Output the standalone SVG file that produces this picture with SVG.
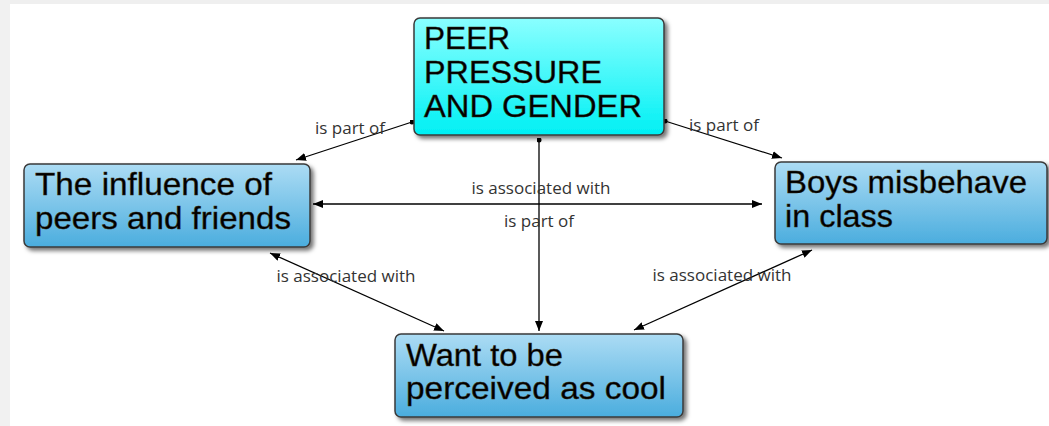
<svg xmlns="http://www.w3.org/2000/svg" width="1049" height="426" viewBox="0 0 1049 426">
<style>
.box{stroke:#3a3a3a;stroke-width:1.5;filter:url(#sh)}
.blue{fill:url(#gb)}
.cyan{fill:url(#gc)}
.nt{font-family:"Liberation Sans",Arial,sans-serif;font-size:32px;fill:#000;stroke:#3a2a10;stroke-width:0.4}
.lbl{font-family:"Open Sans","Noto Sans",sans-serif;font-size:17px;fill:#333;text-anchor:middle}
.con{stroke:#000;stroke-width:1.3;fill:none}
</style>
<defs>
<linearGradient id="gb" x1="0" y1="0" x2="0" y2="1">
<stop offset="0" stop-color="#acdcf4"/>
<stop offset="1" stop-color="#4badde"/>
</linearGradient>
<linearGradient id="gc" x1="0" y1="0" x2="0" y2="1">
<stop offset="0" stop-color="#8affff"/>
<stop offset="1" stop-color="#00f0f4"/>
</linearGradient>
<filter id="sh" x="-10%" y="-10%" width="125%" height="135%">
<feDropShadow dx="3" dy="3" stdDeviation="2" flood-color="#000" flood-opacity="0.55"/>
</filter>
<marker id="ah" viewBox="0 0 10 8" refX="10" refY="4" markerWidth="10" markerHeight="8" markerUnits="userSpaceOnUse" orient="auto-start-reverse">
<path d="M0,0 L10,4 L0,8 Z" fill="#000"/>
</marker>
<marker id="dot" viewBox="0 0 6 6" refX="3" refY="3" markerWidth="5" markerHeight="5" markerUnits="userSpaceOnUse">
<circle cx="3" cy="3" r="3" fill="#000"/>
</marker>
</defs>
<rect x="0" y="0" width="1049" height="426" fill="#fff"/>
<rect x="0" y="0" width="1049" height="4" fill="#efefef"/>
<rect x="0" y="0" width="10" height="426" fill="#f1f1f1"/>

<g id="connectors">
<line class="con" x1="412" y1="122" x2="296" y2="160" marker-start="url(#dot)" marker-end="url(#ah)"/>
<line class="con" x1="665" y1="121" x2="782" y2="158" marker-start="url(#dot)" marker-end="url(#ah)"/>
<line class="con" x1="539" y1="140" x2="539" y2="331" marker-start="url(#dot)" marker-end="url(#ah)"/>
<line class="con" x1="313" y1="204" x2="762" y2="204" marker-start="url(#ah)" marker-end="url(#ah)"/>
<line class="con" x1="270" y1="253" x2="444" y2="331" marker-start="url(#ah)" marker-end="url(#ah)"/>
<line class="con" x1="812" y1="250" x2="634" y2="330" marker-start="url(#ah)" marker-end="url(#ah)"/>
<text class="lbl" x="350" y="134">is part of</text>
<text class="lbl" x="724" y="131">is part of</text>
<text class="lbl" x="541" y="194">is associated with</text>
<text class="lbl" x="539" y="227">is part of</text>
<text class="lbl" x="346" y="282">is associated with</text>
<text class="lbl" x="722" y="281">is associated with</text>
</g>

<g id="peer-pressure">
<rect class="box cyan" x="414" y="18" width="250" height="117" rx="6"/>
<text class="nt" x="424" y="49" textLength="86" lengthAdjust="spacingAndGlyphs">PEER</text>
<text class="nt" x="424" y="83" textLength="178" lengthAdjust="spacingAndGlyphs">PRESSURE</text>
<text class="nt" x="424" y="117" textLength="218" lengthAdjust="spacingAndGlyphs">AND GENDER</text>
</g>
<g id="influence">
<rect class="box blue" x="24" y="164" width="286" height="83" rx="6"/>
<text class="nt" x="35" y="195" textLength="237" lengthAdjust="spacingAndGlyphs">The influence of</text>
<text class="nt" x="35" y="229" textLength="256" lengthAdjust="spacingAndGlyphs">peers and friends</text>
</g>
<g id="boys">
<rect class="box blue" x="775" y="162" width="272" height="82" rx="6"/>
<text class="nt" x="785" y="193" textLength="242" lengthAdjust="spacingAndGlyphs">Boys misbehave</text>
<text class="nt" x="785" y="227" textLength="108" lengthAdjust="spacingAndGlyphs">in class</text>
</g>
<g id="cool">
<rect class="box blue" x="395" y="334" width="288" height="83" rx="6"/>
<text class="nt" x="406" y="366" textLength="157" lengthAdjust="spacingAndGlyphs">Want to be</text>
<text class="nt" x="406" y="399" textLength="260" lengthAdjust="spacingAndGlyphs">perceived as cool</text>
</g>
</svg>
